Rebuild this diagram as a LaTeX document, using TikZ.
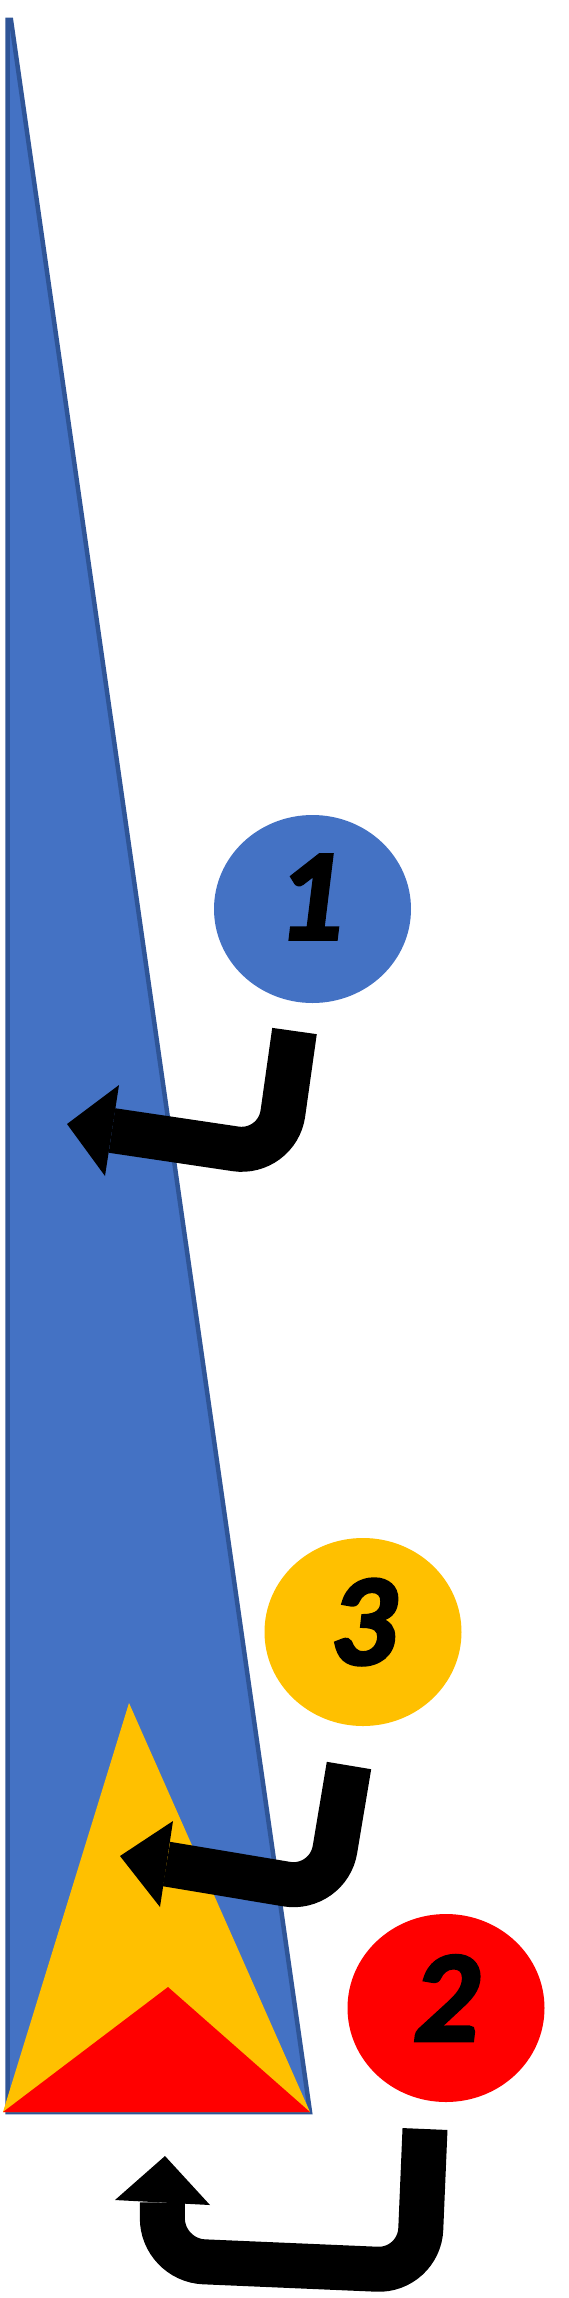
\documentclass[tikz,border=0pt]{standalone}
\usepackage{fontspec}
\setmainfont{Carlito}
\newfontfamily\numfont{Carlito Bold Italic}[FakeBold=2.6]
\definecolor{tblue}{HTML}{4472C4}
\definecolor{tblueedge}{HTML}{2F5597}
\definecolor{tyellow}{HTML}{FFC000}
\definecolor{tred}{HTML}{FF0000}
\tikzset{
  badge/.style={ellipse, minimum width=197pt, minimum height=188pt, inner sep=0pt},
  numtext/.style={font=\fontsize{130}{132}\numfont, text=black, inner sep=0pt},
  bentshaft/.style={draw=black, line width=45pt, line cap=butt, rounded corners=42pt},
  bentarrowhead/.style={fill=black, draw=none}
}
\usetikzlibrary{shapes.geometric}
\begin{document}
\begin{tikzpicture}[x=1pt,y=-1pt]
\useasboundingbox (0,0) rectangle (568,2298);
% blue triangle
\path[fill=tblue, draw=tblueedge, line width=4.5pt, line join=miter]
  (7.5,20) -- (11,20) -- (310,2112) -- (7.5,2112) -- cycle;
% yellow triangle
\path[fill=tyellow] (129,1703) -- (310,2112) -- (3,2112) -- cycle;
% red triangle
\path[fill=tred] (168,1987) -- (310,2112) -- (3,2112) -- cycle;

% badge 1
\node[badge, fill=tblue] (c1) at (312.5,909) {};
\node[numtext] (n1) at (310,897) {1};
% badge 3
\node[badge, fill=tyellow] (c3) at (363,1632) {};
\node[numtext] (n3) at (363,1622) {3};
% badge 2
\node[badge, fill=tred] (c2) at (446,2008) {};
\node[numtext] (n2) at (446,1998) {2};

% arrow 1
\coordinate (a1s) at (294.5,1031);
\coordinate (a1c) at (277,1155);
\coordinate (a1b) at (112,1130.5);
\draw[bentshaft] (a1s) -- (a1c) -- (a1b);
\path[bentarrowhead] (67,1124) -- (119,1085) -- (105,1176) -- cycle;

% arrow 3
\coordinate (a3s) at (349,1765.5);
\coordinate (a3c) at (328,1891);
\coordinate (a3b) at (166.5,1864);
\draw[bentshaft] (a3s) -- (a3c) -- (a3b);
\path[bentarrowhead] (120,1856) -- (173,1821) -- (160,1907) -- cycle;

% arrow 2 (U-turn)
\coordinate (a2s) at (425,2129);
\coordinate (a2c1) at (419,2271);
\coordinate (a2c2) at (162,2260);
\coordinate (a2b) at (162.5,2202.5);
\draw[bentshaft] (a2s) -- (a2c1) -- (a2c2) -- (a2b);
\path[bentarrowhead] (165,2156) -- (115,2200) -- (210,2205) -- cycle;
\end{tikzpicture}
\end{document}
